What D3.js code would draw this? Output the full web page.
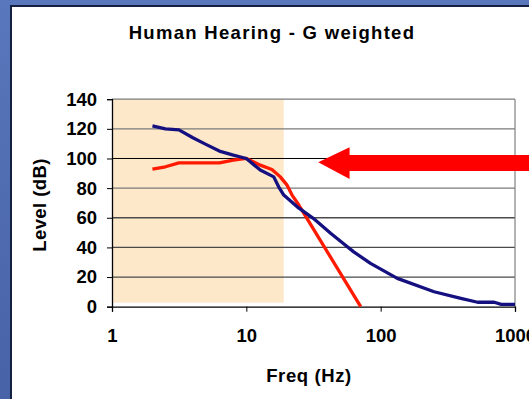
<!DOCTYPE html>
<html>
<head>
<meta charset="utf-8">
<script src="https://cdn.jsdelivr.net/npm/d3@7"></script>
<style>
  html, body { margin: 0; padding: 0; background: #ffffff; }
  svg { display: block; }
  text { font-family: "Liberation Sans", Arial, sans-serif; font-weight: bold; fill: #000; }
</style>
</head>
<body>
<svg id="chart" width="529" height="399"></svg>
<script>
// Frequency (Hz) and level (dB) of the hearing threshold curve
const hearingFreq  = [2, 2.5, 3.15, 4, 5, 6.3, 8, 10, 12.7, 16, 17.4, 19, 23.9, 31.5, 42.4, 53, 63, 84, 133, 250, 395, 527, 700, 790, 1000];
const hearingLevel = [122, 120, 119.3, 114, 109.5, 105, 102.3, 100, 92.2, 87.6, 80.9, 75.3, 67.4, 59.6, 49.5, 42.5, 37, 29.2, 19.1, 10.1, 5.6, 3, 3, 1.6, 1.6];

// G-weighting curve, normalised to 100 dB at 10 Hz
const gFreq  = [2, 2.5, 3.15, 6.3, 8, 10, 12.7, 15.5, 17.9, 20.1, 21.9, 24.6, 71];
const gLevel = [92.8, 94.4, 97, 97, 98.9, 100, 95.5, 92.6, 87.6, 82, 75.3, 68.6, 0];

// Infrasound band highlighted behind the curves
const bandFreq  = [1, 19];
const bandLevel = [2.7, 140];

// Axis ticks
const xTicks = [1, 10, 100, 1000];
const yTicks = [0, 20, 40, 60, 80, 100, 120, 140];

// Pointer arrow (tip, head base, tail) in data units
const arrowFreq  = [34.3, 58.7, 3000];
const arrowLevel = { tip: 97.4, headTop: 107.6, headBottom: 86.2, shaftTop: 102.4, shaftBottom: 91.6 };

const svg = d3.select("#chart");
const W = 529, H = 399;

// Slide background and chart panel
const defs = svg.append("defs");
const grad = defs.append("linearGradient").attr("id", "slideBg")
  .attr("x1", 0).attr("y1", 0).attr("x2", 0).attr("y2", 1);
grad.append("stop").attr("offset", "0%").attr("stop-color", "#5977bc");
grad.append("stop").attr("offset", "100%").attr("stop-color", "#4862a7");
svg.append("rect").attr("width", W).attr("height", H).attr("fill", "url(#slideBg)");
svg.append("rect").attr("x", 11).attr("y", 6).attr("width", W).attr("height", H)
  .attr("fill", "#ffffff").attr("stroke", "#13203f").attr("stroke-width", 2);

const x = d3.scaleLog().domain([1, 1000]).range([112, 515]);
const y = d3.scaleLinear().domain([0, 140]).range([306.7, 99.2]);

// Highlighted band
svg.append("rect")
  .attr("x", x(bandFreq[0])).attr("y", y(bandLevel[1]))
  .attr("width", x(bandFreq[1]) - x(bandFreq[0]))
  .attr("height", y(bandLevel[0]) - y(bandLevel[1]))
  .attr("fill", "#fde9ca");

// Horizontal gridlines
svg.append("g")
  .selectAll("line")
  .data(yTicks.filter(d => d > 0))
  .join("line")
  .attr("x1", x(1)).attr("x2", x(1000))
  .attr("y1", d => y(d)).attr("y2", d => y(d))
  .attr("stroke", d => d === 100 ? "#000" : d === 140 || d === 120 || d === 80 ? "#7a7a7a" : "#4a4a4a")
  .attr("stroke-width", d => d === 100 ? 1 : 1.3);

// Right border of plot area
svg.append("line")
  .attr("x1", x(1000)).attr("x2", x(1000))
  .attr("y1", y(140)).attr("y2", y(0))
  .attr("stroke", "#808080").attr("stroke-width", 1.2);

// Axes
const yAxis = d3.axisLeft(y).tickValues(yTicks).tickSize(5).tickPadding(10).tickFormat(d3.format("d"));
const xAxis = d3.axisBottom(x).tickValues(xTicks).tickSize(5).tickPadding(17).tickFormat(d3.format("d"));

const gy = svg.append("g").attr("transform", `translate(${x(1)},0)`).call(yAxis);
const gx = svg.append("g").attr("transform", `translate(0,${y(0)})`).call(xAxis);
[gx, gy].forEach(g => {
  g.select(".domain").attr("stroke", "#000").attr("stroke-width", 1.3);
  g.selectAll(".tick line").attr("stroke", "#000");
  g.selectAll(".tick text")
    .attr("font-family", '"Liberation Sans", Arial, sans-serif')
    .attr("font-weight", "bold").attr("font-size", 18.5).attr("fill", "#000");
});

// Curves
const line = d3.line().x(d => x(d[0])).y(d => y(d[1])).curve(d3.curveLinear);

svg.append("path")
  .datum(gFreq.map((f, i) => [f, gLevel[i]]))
  .attr("d", line)
  .attr("fill", "none").attr("stroke", "#ff1a00").attr("stroke-width", 3.3)
  .attr("stroke-linejoin", "round");

svg.append("path")
  .datum(hearingFreq.map((f, i) => [f, hearingLevel[i]]))
  .attr("d", line)
  .attr("fill", "none").attr("stroke", "#141080").attr("stroke-width", 3.3)
  .attr("stroke-linejoin", "round");

// Arrow pointing at the 100 dB line
const arrowPts = [
  [x(arrowFreq[0]), y(arrowLevel.tip)],
  [x(arrowFreq[1]), y(arrowLevel.headTop)],
  [x(arrowFreq[1]), y(arrowLevel.shaftTop)],
  [x(arrowFreq[2]), y(arrowLevel.shaftTop)],
  [x(arrowFreq[2]), y(arrowLevel.shaftBottom)],
  [x(arrowFreq[1]), y(arrowLevel.shaftBottom)],
  [x(arrowFreq[1]), y(arrowLevel.headBottom)]
];
svg.append("polygon")
  .attr("points", arrowPts.map(p => p.join(",")).join(" "))
  .attr("fill", "#ff0000");

// Titles
svg.append("text")
  .attr("x", 272).attr("y", 39)
  .attr("text-anchor", "middle").attr("font-size", 18.5).attr("letter-spacing", 1.3)
  .text("Human Hearing - G weighted");

svg.append("text")
  .attr("x", 309).attr("y", 382)
  .attr("text-anchor", "middle").attr("font-size", 18.5).attr("letter-spacing", 0.6)
  .text("Freq (Hz)");

svg.append("text")
  .attr("transform", "translate(45.5,205) rotate(-90)")
  .attr("text-anchor", "middle").attr("font-size", 18.5).attr("letter-spacing", 0.4)
  .text("Level (dB)");
</script>
</body>
</html>
